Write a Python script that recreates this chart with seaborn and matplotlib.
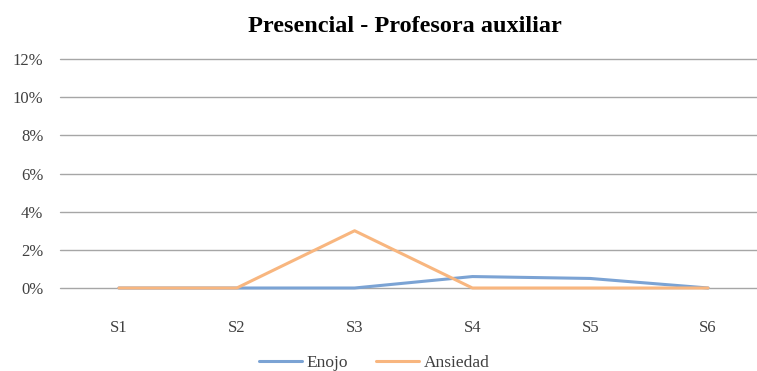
import pandas as pd
import matplotlib.pyplot as plt
import seaborn as sns
from matplotlib.lines import Line2D

sesiones = ['S1', 'S2', 'S3', 'S4', 'S5', 'S6']
enojo = [0.0, 0.0, 0.0, 0.6, 0.5, 0.0]
ansiedad = [0.0, 0.0, 3.0, 0.0, 0.0, 0.0]

df = pd.DataFrame({
    'Sesion': sesiones * 2,
    'Valor': enojo + ansiedad,
    'Emocion': ['Enojo'] * 6 + ['Ansiedad'] * 6,
})

sns.set_style('white')
plt.rcParams['font.family'] = ['Liberation Serif', 'DejaVu Serif']

fig = plt.figure(figsize=(7.57, 3.71), dpi=100)
ax = fig.add_axes([60 / 757, 1 - 288 / 371, 697 / 757, 229 / 371])

palette = {'Enojo': '#7BA3D4', 'Ansiedad': '#F8B67F'}
sns.lineplot(data=df, x='Sesion', y='Valor', hue='Emocion', palette=palette,
             linewidth=2.2, ax=ax, sort=False, clip_on=False, legend=False, zorder=3)

ax.set_ylim(0, 12)
ax.set_xlim(-0.5, 5.415)
ax.set_yticks(range(0, 13, 2))
ax.set_yticklabels([f'{v}%' for v in range(0, 13, 2)])
ax.yaxis.grid(True, color='#A6A6A6', linewidth=1)
for gl in ax.get_ygridlines():
    gl.set_clip_on(False)
ax.set_axisbelow(True)
for s in ax.spines.values():
    s.set_visible(False)
ax.tick_params(axis='y', length=0, pad=12, labelsize=12, colors='#404040')
ax.tick_params(axis='x', length=0, pad=23, labelsize=12, colors='#404040')
ax.set_xlabel('')
ax.set_ylabel('')

fig.text(405 / 757, 1 - 27 / 371, 'Presencial - Profesora auxiliar', ha='center', va='center',
         fontsize=17.5, fontweight='bold', color='black')

handles = [Line2D([], [], color=palette['Enojo'], linewidth=2.2),
           Line2D([], [], color=palette['Ansiedad'], linewidth=2.2)]
fig.legend(handles, ['Enojo', 'Ansiedad'], loc='center', bbox_to_anchor=(374 / 757, 1 - 363 / 371),
           ncol=2, frameon=False, fontsize=12.5, handlelength=2.5, handletextpad=0.25,
           columnspacing=1.6, labelcolor='#404040')

fig.savefig('out.png', dpi=100)
